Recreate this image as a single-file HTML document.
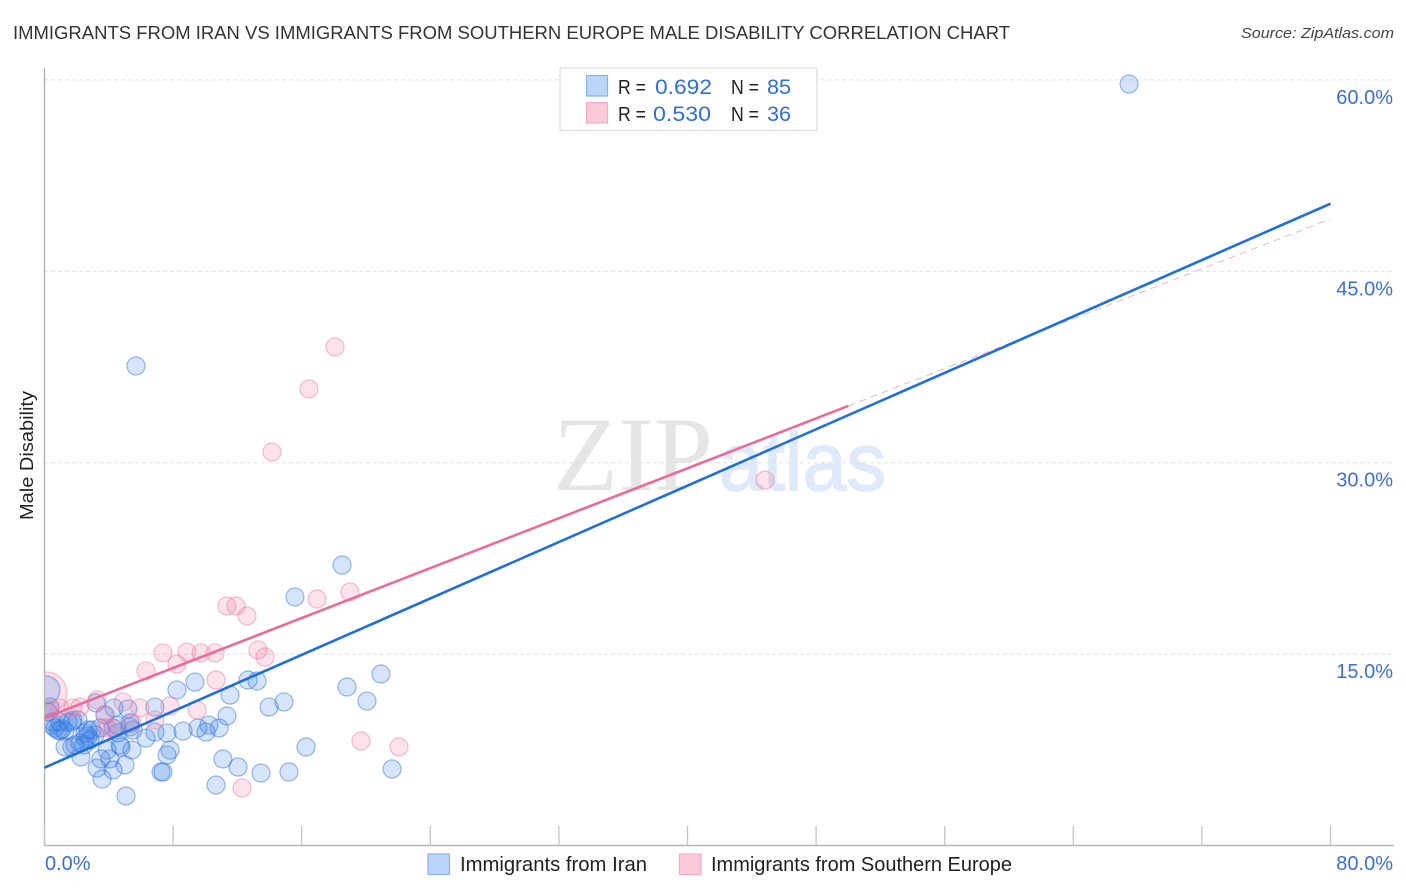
<!DOCTYPE html>
<html lang="en">
<head>
<meta charset="utf-8">
<title>Immigrants from Iran vs Immigrants from Southern Europe Male Disability Correlation Chart</title>
<style>
html,body{margin:0;padding:0;background:#fff;}
svg{display:block;font-family:"Liberation Sans",sans-serif;}
</style>
</head>
<body>
<svg id="chart" width="1406" height="892" viewBox="0 0 1406 892" xmlns="http://www.w3.org/2000/svg">
  <rect width="1406" height="892" fill="#fff"></rect>

  <text x="13" y="39" font-size="18.5" fill="#333" textLength="997" lengthAdjust="spacingAndGlyphs">IMMIGRANTS FROM IRAN VS IMMIGRANTS FROM SOUTHERN EUROPE MALE DISABILITY CORRELATION CHART</text>
  <text x="1241" y="38" font-size="15" font-style="italic" fill="#444" textLength="153" lengthAdjust="spacingAndGlyphs">Source: ZipAtlas.com</text>

  <text x="553" y="490" font-family="'Liberation Serif',serif" font-size="106" fill="#e5e5e5" textLength="160" lengthAdjust="spacingAndGlyphs">ZIP</text>
  <text x="719" y="490" font-size="82" fill="#dfe9f9" stroke="#dfe9f9" stroke-width="1.6" textLength="167" lengthAdjust="spacingAndGlyphs">atlas</text>

  <g id="grid"></g>
  <g id="points"></g>
  <rect x="0" y="60" width="44.5" height="786" fill="#fff"></rect>
  <g id="axes"></g>
  <g id="trends"></g>
  <g id="labels"></g>

  <text transform="translate(33,520) rotate(-90)" font-size="18" fill="#222" textLength="129" lengthAdjust="spacingAndGlyphs">Male Disability</text>

  <g>
    <rect x="560" y="68" width="257" height="62.5" fill="#fff" stroke="#dcdcdc" stroke-width="1.2"></rect>
    <rect x="586.5" y="75.5" width="21" height="20.5" fill="#b9d5f9" stroke="#86b3ea" stroke-width="1.2"></rect>
    <text x="618" y="94" font-size="20" fill="#222" textLength="28" lengthAdjust="spacingAndGlyphs">R =</text>
    <text x="655" y="94" font-size="21.5" fill="#2f6fd6" textLength="57" lengthAdjust="spacingAndGlyphs">0.692</text>
    <text x="731" y="94" font-size="20" fill="#222" textLength="28" lengthAdjust="spacingAndGlyphs">N =</text>
    <text x="767" y="94" font-size="21.5" fill="#2f6fd6" textLength="24" lengthAdjust="spacingAndGlyphs">85</text>
    <rect x="586.5" y="102.5" width="21" height="20.5" fill="#fcc9da" stroke="#f6aac4" stroke-width="1.2"></rect>
    <text x="618" y="121" font-size="20" fill="#222" textLength="28" lengthAdjust="spacingAndGlyphs">R =</text>
    <text x="653" y="121" font-size="21.5" fill="#2f6fd6" textLength="58" lengthAdjust="spacingAndGlyphs">0.530</text>
    <text x="731" y="121" font-size="20" fill="#222" textLength="28" lengthAdjust="spacingAndGlyphs">N =</text>
    <text x="767" y="121" font-size="21.5" fill="#2f6fd6" textLength="24" lengthAdjust="spacingAndGlyphs">36</text>
  </g>

  <g>
    <rect x="428" y="854" width="21.5" height="20.5" fill="#b9d5f9" stroke="#86b3ea" stroke-width="1.2"></rect>
    <text x="460" y="871" font-size="20" fill="#222" textLength="187" lengthAdjust="spacingAndGlyphs">Immigrants from Iran</text>
    <rect x="679.5" y="854" width="21.5" height="20.5" fill="#fcc9da" stroke="#f6aac4" stroke-width="1.2"></rect>
    <text x="711" y="871" font-size="20" fill="#222" textLength="301" lengthAdjust="spacingAndGlyphs">Immigrants from Southern Europe</text>
  </g>
</svg>

<script>
// Foreign-born share (%) on x and male disability share (%) on y.
const iranX = [67.47,5.69,18.51,15.58,20.93,18.82,20.06,21.62,16.27,15.21,13.47,12.04,11.10,10.67,14.90,13.97,11.35,12.66,13.22,11.54,9.36,8.24,6.87,10.86,10.23,10.05,9.55,8.62,7.62,6.87,7.81,7.62,7.25,7.37,6.31,5.51,5.32,5.19,4.32,3.20,5.44,4.76,5.01,4.07,3.51,3.27,4.26,3.58,5.07,2.27,1.28,1.71,2.21,2.52,2.95,3.14,3.76,1.77,2.08,0.34,0.47,0.65,0.84,0.96,1.09,1.28,1.46,1.71,0.53,2.52,2.71,2.83,3.45,4.26,4.57,4.70,3.89,4.51,5.32,2.71,1.90,2.46,0.22,0.96];
const iranY = [59.68,37.58,21.98,19.48,13.44,12.42,11.32,6.00,7.72,5.76,5.68,6.15,6.78,4.74,11.25,10.85,10.15,12.97,12.89,11.79,12.81,12.19,10.85,9.21,9.44,8.89,9.21,8.97,8.82,8.89,7.48,7.09,5.76,5.76,8.42,9.05,9.60,10.70,10.78,11.17,7.48,7.72,6.31,6.78,6.78,6.07,5.92,5.21,3.88,6.94,7.72,7.72,8.03,8.42,9.05,8.66,10.23,9.84,9.84,10.85,9.44,9.21,9.05,8.97,9.13,8.97,9.68,9.68,9.68,8.82,8.58,8.27,9.21,9.21,8.82,7.88,7.48,9.44,9.29,9.05,7.88,7.88,10.46,9.68];
const iranLargeX = [0.09];
const iranLargeY = [12.19];

const europeX = [18.07,16.45,14.15,44.82,19.00,16.95,11.35,11.91,12.60,13.28,13.72,7.37,8.86,9.74,10.61,8.24,6.31,10.67,9.49,7.81,6.87,5.94,4.88,3.27,3.76,2.21,1.77,0.96,0.34,5.44,4.26,3.89,19.69,22.05,12.29];
const europeY = [39.07,35.78,30.84,28.64,19.87,19.32,18.77,18.77,17.99,15.32,14.77,15.09,15.16,15.09,15.09,14.22,13.68,12.97,10.62,10.93,9.84,10.78,11.25,11.40,10.23,10.85,10.78,10.78,10.62,9.60,9.21,9.21,8.19,7.72,4.51];
const europeLargeX = [0.09];
const europeLargeY = [11.95];

// Trend lines: [x at start, x at end] and [y at start, y at end]
const iranTrendX = [0, 80];
const iranTrendY = [6.1, 50.3];
const europeTrendX = [0, 50];
const europeTrendY = [10.0, 34.45];
const europeTrendDashX = [50, 80];
const europeTrendDashY = [34.45, 49.1];

const yTickValues = [15, 30, 45, 60];
const yTickLabels = ["15.0%", "30.0%", "45.0%", "60.0%"];
const xTickValues = [0, 8, 16, 24, 32, 40, 48, 56, 64, 72, 80];
const xEndValues = [0, 80];
const xEndLabels = ["0.0%", "80.0%"];

const NS = "http://www.w3.org/2000/svg";
const xScale = v => 44.5 + v * 16.075;
const yScale = v => 845.5 - v * 12.76;

function make(tag, attrs, parent) {
  const el = document.createElementNS(NS, tag);
  Object.keys(attrs).forEach(k => el.setAttribute(k, attrs[k]));
  parent.appendChild(el);
  return el;
}

const gridG = document.getElementById("grid");
const axesG = document.getElementById("axes");
const pointsG = document.getElementById("points");
const trendsG = document.getElementById("trends");
const labelsG = document.getElementById("labels");

yTickValues.forEach((v, i) => {
  const y = yScale(v);
  const line = make("line", {x1: 44, x2: 1393, y1: y, y2: y, stroke: "#e0e0e0", "stroke-width": 1, "stroke-dasharray": "4 3"}, gridG);
  
  
  const label = make("text", {x: 1393, y: y + 24, "font-size": 20, fill: "#3a70d4", "text-anchor": "end"}, labelsG);
  
  
  label.textContent = yTickLabels[i];
});

const leftAxis = make("line", {x1: 44.5, x2: 44.5, y1: 68, y2: 846, stroke: "#b5b5b5", "stroke-width": 1.4}, axesG);


const bottomAxis = make("line", {x1: 44, x2: 1394, y1: 845.5, y2: 845.5, stroke: "#b5b5b5", "stroke-width": 1.4}, axesG);



xTickValues.forEach(v => {
  const x = xScale(v);
  const tick = make("line", {x1: x, x2: x, y1: 826, y2: 845.5, stroke: "#c4c4c4", "stroke-width": 1.3}, axesG);
  
  
});

xEndValues.forEach((v, i) => {
  const label = make("text", {x: i === 0 ? xScale(v) + 0.5 : 1393, y: 870, "font-size": 20, fill: "#3a70d4", "text-anchor": i === 0 ? "start" : "end"}, labelsG);
  
  
  label.textContent = xEndLabels[i];
});

const BLUE = "#3f86e6";
const PINK = "#ee7ba3";

function drawSeries(xs, ys, color, stroke, radius, name) {
  xs.forEach((v, i) => {
    const c = make("circle", {cx: xScale(v), cy: yScale(ys[i]), r: radius, fill: color, "fill-opacity": 0.22, stroke: stroke, "stroke-opacity": 0.5, "stroke-width": 1.2}, pointsG);
    
    
  });
}

drawSeries(europeLargeX, europeLargeY, PINK, PINK, 21, "point-southern-europe-large");
drawSeries(iranLargeX, iranLargeY, BLUE, "#2f74d8", 14, "point-iran-large");
drawSeries(iranX, iranY, BLUE, "#2f74d8", 9, "point-iran");
drawSeries(europeX, europeY, PINK, PINK, 9, "point-southern-europe");

const dash = make("line", {x1: xScale(europeTrendDashX[0]), x2: xScale(europeTrendDashX[1]), y1: yScale(europeTrendDashY[0]), y2: yScale(europeTrendDashY[1]), stroke: "#f0a9c3", "stroke-width": 0.9, "stroke-dasharray": "7 5"}, trendsG);



const iranTrend = make("line", {x1: xScale(iranTrendX[0]), x2: xScale(iranTrendX[1]), y1: yScale(iranTrendY[0]), y2: yScale(iranTrendY[1]), stroke: "#1f6fd9", "stroke-width": 2.6}, trendsG);



const europeTrend = make("line", {x1: xScale(europeTrendX[0]), x2: xScale(europeTrendX[1]), y1: yScale(europeTrendY[0]), y2: yScale(europeTrendY[1]), stroke: "#ea6a9b", "stroke-width": 2.6}, trendsG);


</script>
</body>
</html>
